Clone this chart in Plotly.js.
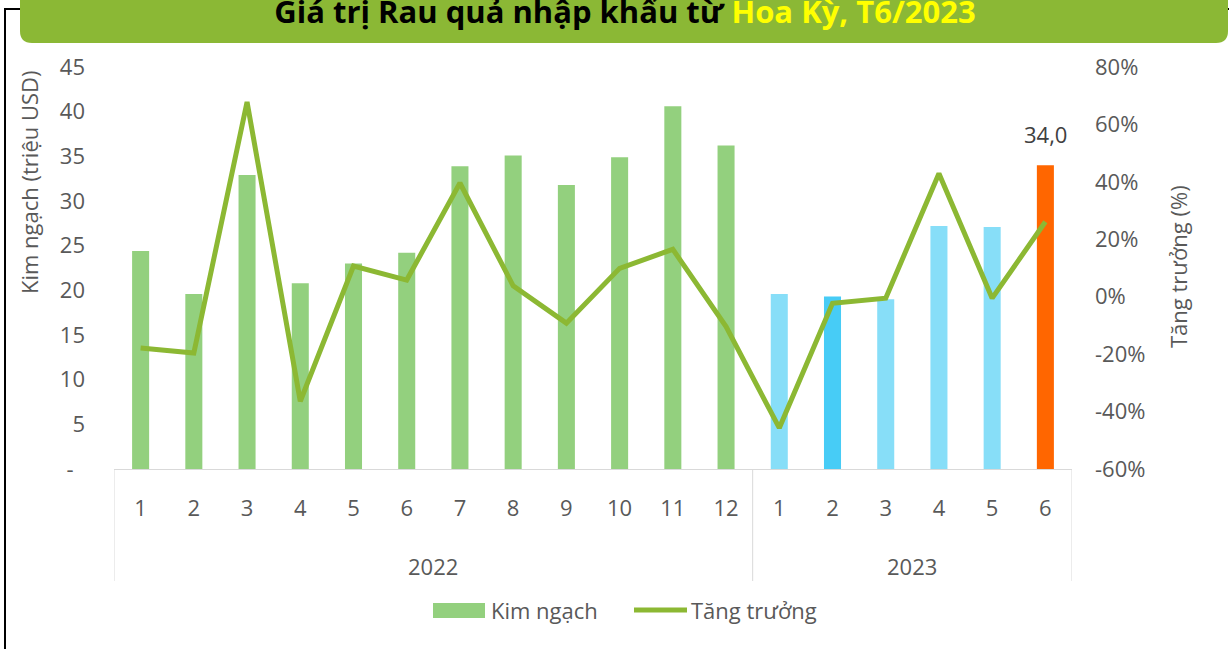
<!DOCTYPE html>
<html>
<head>
<meta charset="utf-8">
<script src="https://cdn.plot.ly/plotly-3.0.1.min.js"></script>
<style>
  html, body { margin: 0; padding: 0; background: #ffffff; }
  #chart { width: 1229px; height: 649px; }
</style>
</head>
<body>
<div id="chart"></div>
<script>
// ---- Data ----
const periodYear  = ['2022','2022','2022','2022','2022','2022','2022','2022','2022','2022','2022','2022',
                     '2023','2023','2023','2023','2023','2023'];
const periodMonth = ['1','2','3','4','5','6','7','8','9','10','11','12',
                     '1','2','3','4','5','6'];
const kimNgach    = [24.4, 19.6, 32.9, 20.8, 23.0, 24.2, 33.9, 35.1, 31.8, 34.9, 40.6, 36.2,
                     19.6, 19.3, 19.0, 27.2, 27.1, 34.0];
const tangTruong  = [-17.9, -19.6, 67.8, -36.4, 10.7, 5.8, 39.6, 3.8, -9.2, 9.9, 16.5, -10.4,
                     -45.7, -2.3, -0.5, 42.9, -0.5, 26.1];
const leftTickVals  = [0, 5, 10, 15, 20, 25, 30, 35, 40, 45];
const leftTickText  = ['-\u00a0\u00a0', '5', '10', '15', '20', '25', '30', '35', '40', '45'];
const rightTickVals = [-60, -40, -20, 0, 20, 40, 60, 80];
const rightTickText = ['-60%', '-40%', '-20%', '0%', '20%', '40%', '60%', '80%'];
const seriesNames   = ['Kim ngạch', 'Tăng trưởng'];
const axisTitles    = ['Kim ngạch (triệu USD)', 'Tăng trưởng (%)'];
const highlightLabel = '34,0';

// ---- Styles ----
const barColors = ['#93D07E','#93D07E','#93D07E','#93D07E','#93D07E','#93D07E',
                   '#93D07E','#93D07E','#93D07E','#93D07E','#93D07E','#93D07E',
                   '#87DEF8','#47CCF6','#87DEF8','#87DEF8','#87DEF8','#FF6600'];
const legendBarColor = '#93D07E';
const lineColor = '#8CB833';
const textGrey = '#595959';
const FONT = 'Open Sans, Noto Sans, sans-serif';

const W = 1229, H = 649;
const M = {l: 114, r: 157, t: 67, b: 180};
const PW = W - M.l - M.r, PH = H - M.t - M.b;
const X = px => (px - M.l) / PW;
const Y = py => (H - M.b - py) / PH;

const xKeys = periodYear.map((y, i) => y + '-' + periodMonth[i]);

// group boundaries for the two-level axis
const groups = [];
periodYear.forEach((y, i) => {
  if (!groups.length || groups[groups.length - 1].year !== y) groups.push({year: y, start: i, end: i});
  else groups[groups.length - 1].end = i;
});

const shapes = [];
// black frame
shapes.push({type: 'rect', xref: 'paper', yref: 'paper', x0: X(5), x1: X(1300), y0: Y(9), y1: Y(700),
             line: {color: '#000000', width: 2}, fillcolor: 'rgba(0,0,0,0)', layer: 'above'});
// title banner (rounded bottom corners)
(function () {
  const x0 = 20, x1 = 1228, yt = -30, yb = 43, r = 12;
  const p = (a, b) => X(a) + ',' + Y(b);
  const path = 'M' + p(x0, yt) + ' L' + p(x0, yb - r) + ' Q' + p(x0, yb) + ' ' + p(x0 + r, yb) +
               ' L' + p(x1 - r, yb) + ' Q' + p(x1, yb) + ' ' + p(x1, yb - r) + ' L' + p(x1, yt) + ' Z';
  shapes.push({type: 'path', xref: 'paper', yref: 'paper', path: path, fillcolor: '#8BB835',
               line: {width: 0}, layer: 'above'});
})();
// dividers of the two-level category axis
const dividerPos = [groups[0].start - 0.5].concat(groups.map(g => g.end + 0.5));
dividerPos.forEach(d => shapes.push({type: 'line', xref: 'x', yref: 'paper', x0: d, x1: d,
  y0: 0, y1: Y(581), line: {color: '#D9D9D9', width: 1}}));
// legend symbols
shapes.push({type: 'rect', xref: 'paper', yref: 'paper', x0: X(433), x1: X(485), y0: Y(603), y1: Y(618),
             fillcolor: legendBarColor, line: {width: 0}});
shapes.push({type: 'line', xref: 'paper', yref: 'paper', x0: X(634), x1: X(687), y0: Y(610), y1: Y(610),
             line: {color: lineColor, width: 5}});

const annotations = [];
groups.forEach(g => annotations.push({
  xref: 'x', yref: 'paper', x: (g.start + g.end) / 2, y: Y(566), text: g.year,
  showarrow: false, xanchor: 'center', yanchor: 'middle',
  font: {family: FONT, size: 22, color: textGrey}}));
annotations.push({
  xref: 'paper', yref: 'paper', x: X(29), y: Y(182), text: axisTitles[0], textangle: -90,
  showarrow: false, xanchor: 'center', yanchor: 'middle',
  font: {family: FONT, size: 22, color: textGrey}});
annotations.push({
  xref: 'paper', yref: 'paper', x: X(1178), y: Y(267), text: axisTitles[1], textangle: -90,
  showarrow: false, xanchor: 'center', yanchor: 'middle',
  font: {family: FONT, size: 22, color: textGrey}});
const last = kimNgach.length - 1;
annotations.push({
  xref: 'x', yref: 'y', x: xKeys[last], y: kimNgach[last], text: highlightLabel,
  showarrow: false, xanchor: 'center', yanchor: 'bottom', yshift: 14,
  font: {family: FONT, size: 22, color: '#404040'}});
// legend texts
annotations.push({xref: 'paper', yref: 'paper', x: X(489), y: Y(610), text: seriesNames[0],
  showarrow: false, xanchor: 'left', yanchor: 'middle', font: {family: FONT, size: 22, color: textGrey}});
annotations.push({xref: 'paper', yref: 'paper', x: X(689), y: Y(610), text: seriesNames[1],
  showarrow: false, xanchor: 'left', yanchor: 'middle', font: {family: FONT, size: 22, color: textGrey}});

const traces = [
  {type: 'bar', name: seriesNames[0], x: xKeys, y: kimNgach, marker: {color: barColors}},
  {type: 'scatter', mode: 'lines', name: seriesNames[1], x: xKeys, y: tangTruong, yaxis: 'y2',
   line: {color: lineColor, width: 5}}
];

const layout = {
  width: W, height: H,
  margin: M,
  paper_bgcolor: '#ffffff', plot_bgcolor: '#ffffff',
  font: {family: FONT, size: 22, color: textGrey},
  title: {
    text: 'Giá trị Rau quả nhập khẩu từ <span style="color:#FFFF00">Hoa Kỳ, T6/2023</span>',
    font: {family: FONT, size: 31, color: '#000000', weight: 'bold'},
    xref: 'container', x: 625 / W, xanchor: 'center',
    yref: 'container', y: 1 - 12 / H, yanchor: 'middle'
  },
  bargap: 0.68,
  showlegend: false,
  xaxis: {
    type: 'category', range: [-0.5, xKeys.length - 0.5],
    tickvals: xKeys, ticktext: periodMonth, ticks: '',
    showline: true, linecolor: '#D9D9D9', linewidth: 1,
    showgrid: false, zeroline: false, ticklabelstandoff: 20,
    tickfont: {family: FONT, size: 22, color: textGrey}
  },
  yaxis: {
    range: [0, 45], tickvals: leftTickVals, ticktext: leftTickText,
    showgrid: false, zeroline: false, showline: false, ticks: '',
    ticklabelstandoff: 28,
    tickfont: {family: FONT, size: 22, color: textGrey}
  },
  yaxis2: {
    overlaying: 'y', side: 'right', range: [-60, 80],
    tickvals: rightTickVals, ticktext: rightTickText,
    showgrid: false, zeroline: false, showline: false, ticks: '',
    ticklabelstandoff: 22,
    tickfont: {family: FONT, size: 22, color: textGrey}
  },
  shapes: shapes,
  annotations: annotations
};

Plotly.newPlot('chart', traces, layout, {displayModeBar: false, staticPlot: true});
</script>
</body>
</html>
